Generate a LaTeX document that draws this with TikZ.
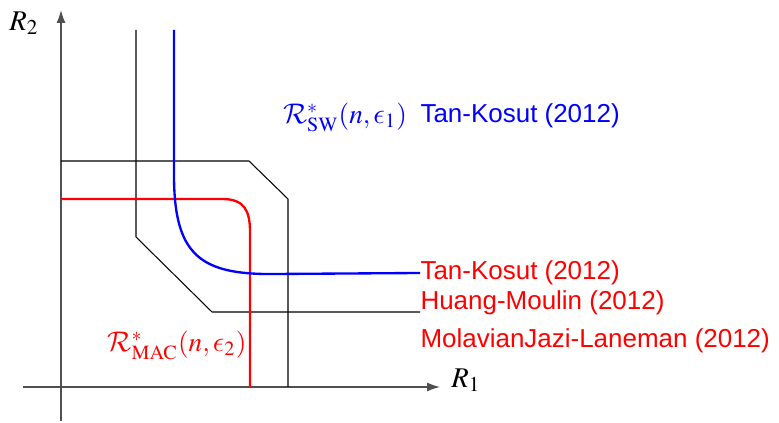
\documentclass[tikz,border=0pt]{standalone}
\usepackage{mathptmx}
\usepackage[no-math]{fontspec}
\setmainfont{Liberation Serif}
\setsansfont{Liberation Sans}
\DeclareMathAlphabet{\mathcal}{OMS}{cmsy}{m}{n}
\DeclareSymbolFont{cmletters}{OML}{cmm}{m}{it}
\DeclareMathSymbol{\lunateeps}{\mathord}{cmletters}{"0F}
\usetikzlibrary{arrows.meta,calc,positioning}
\definecolor{RegionBlue}{HTML}{0000FF}
\definecolor{RegionRed}{HTML}{FF0000}
\definecolor{AxisGray}{HTML}{505050}
\tikzset{
  axis line/.style={AxisGray,line width=0.55pt,-{Latex[length=5pt,width=3.5pt]}},
  bound line/.style={black,line width=0.4pt},
  sw curve/.style={RegionBlue,line width=0.9pt},
  mac curve/.style={RegionRed,line width=0.9pt},
  cite label/.style={anchor=west,inner sep=0pt,font=\sffamily\fontsize{10}{12}\selectfont},
}

\begin{document}
\begin{tikzpicture}[x=0.385pt,y=-0.385pt]

        \useasboundingbox (0,0) rectangle (779,423);

        % axes
        \coordinate (xstart) at (23,387);
        \coordinate (xend) at (440,387);
        \coordinate (ystart) at (61,421);
        \coordinate (yend) at (61,10);
        \draw[axis line] (xstart) -- (xend);
        \draw[axis line] (ystart) -- (yend);
        \node[font=\fontsize{11}{13}\selectfont] (rone) at (466,380) {$R_1$};
        \node[font=\fontsize{11}{13}\selectfont] (rtwo) at (24,23) {$R_2$};

        % outer bounds (black)
        \draw[bound line]
          (61,161) -- (249,161) -- (288,199) -- (288,387);
        \coordinate (hmend) at (420,312);
        \draw[bound line]
          (136,30) -- (136,237) -- (212,312) -- (hmend);

        % MAC region (red)
        \draw[mac curve]
          (61,199) -- (222,199) .. controls (244,199) and (250,210) ..
          (250,232) -- (250,387);

        % SW region (blue)
        \coordinate (swend) at (420,273);
        \draw[sw curve]
          (174,30) -- (174,175) .. controls (174,255) and (200,275) ..
          (275,274) -- (swend);

        % labels
        \node[RegionBlue,font=\fontsize{10.5}{12}\selectfont] (swlab)
          at (345,117) {$\mathcal{R}^*_{\mathrm{SW}}(n,\lunateeps_1)$};
        \node[cite label,text=RegionBlue] (swcite) at (420,116)
          {Tan-Kosut (2012)};
        \node[RegionRed,font=\fontsize{10.5}{12}\selectfont] (maclab)
          at (177,345) {$\mathcal{R}^*_{\mathrm{MAC}}(n,\lunateeps_2)$};
        \node[cite label,text=RegionRed] (tkcite) at (swend) {Tan-Kosut (2012)};
        \node[cite label,text=RegionRed] (hmcite) at (420,303)
          {Huang-Moulin (2012)};
        \node[cite label,text=RegionRed] (mlcite) at (420,341)
          {MolavianJazi-Laneman (2012)};

      \end{tikzpicture}
\end{document}
